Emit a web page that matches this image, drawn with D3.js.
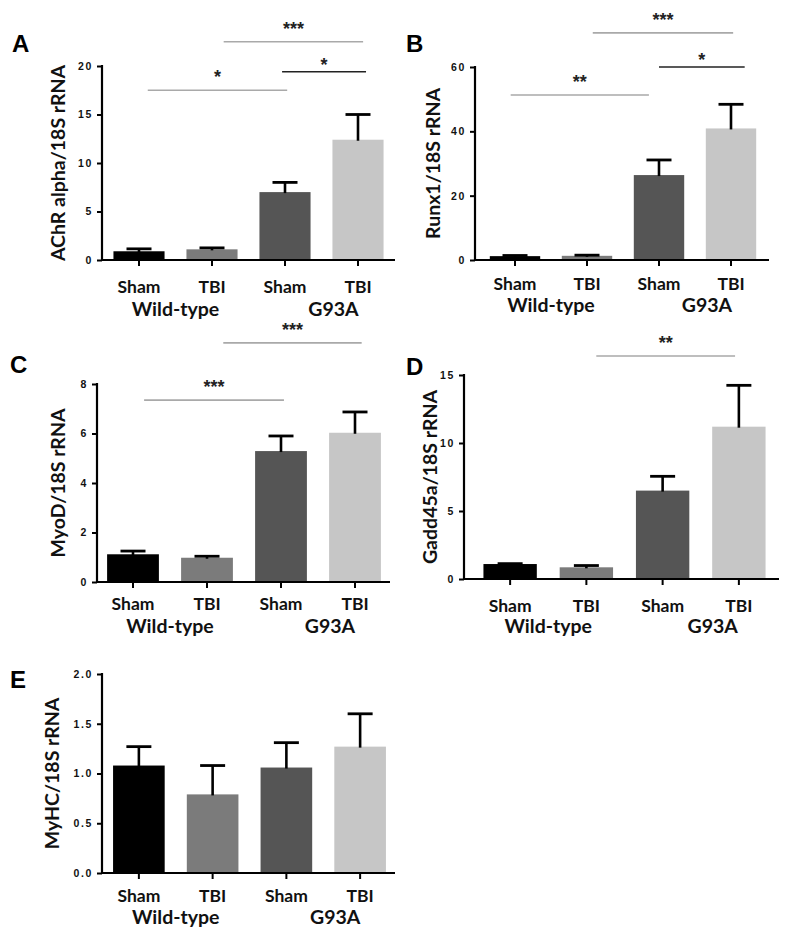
<!DOCTYPE html>
<html>
<head>
<meta charset="utf-8">
<script src="https://cdn.jsdelivr.net/npm/d3@7"></script>
<style>
  html, body { margin: 0; padding: 0; background: #fff; }
  svg { display: block; }
</style>
</head>
<body>
<svg id="chart" width="792" height="948"></svg>
<script>
// ---------------- DATA ----------------
const categories = ["Sham", "TBI", "Sham", "TBI"];
const genotypes = ["Wild-type", "G93A"];
const panelLetters = ["A", "B", "C", "D", "E"];
const yLabels = ["AChR alpha/18S rRNA", "Runx1/18S rRNA", "MyoD/18S rRNA", "Gadd45a/18S rRNA", "MyHC/18S rRNA"];

const achrMean = [0.9, 1.1, 7.0, 12.4];
const achrErr  = [0.25, 0.15, 1.0, 2.6];
const runxMean = [1.2, 1.3, 26.4, 40.9];
const runxErr  = [0.2, 0.2, 4.7, 7.5];
const myodMean = [1.12, 0.98, 5.29, 6.03];
const myodErr  = [0.13, 0.06, 0.61, 0.84];
const gaddMean = [1.1, 0.86, 6.5, 11.2];
const gaddErr  = [0.03, 0.13, 1.05, 3.04];
const myhcMean = [1.08, 0.79, 1.06, 1.27];
const myhcErr  = [0.19, 0.29, 0.25, 0.33];

const achrTicks = [0, 5, 10, 15, 20];
const runxTicks = [0, 20, 40, 60];
const myodTicks = [0, 2, 4, 6, 8];
const gaddTicks = [0, 5, 10, 15];
const myhcTicks = [0, 0.5, 1.0, 1.5, 2.0];

// significance brackets: [from category index, to category index, y value, label, dark line]
const achrSig = [[0.12, 2.03, 17.5, "*", false], [1.16, 3.07, 22.5, "***", false], [1.96, 3.11, 19.4, "*", true]];
const runxSig = [[-0.06, 1.86, 51.3, "**", false], [1.08, 3.03, 70.6, "***", false], [2.0, 3.19, 60, "*", true]];
const myodSig = [[0.15, 2.04, 7.35, "***", false], [1.22, 3.09, 9.66, "***", false]];
const gaddSig = [[1.13, 2.95, 16.4, "**", false]];
const myhcSig = [];

// ---------------- LAYOUT / STYLE ----------------
const barColors = ["#000000", "#7b7b7b", "#555555", "#c6c6c6"];
const panels = [
  { mean: achrMean, err: achrErr, ticks: achrTicks, sig: achrSig, fmt: d3.format("d"),
    axisX: 102, y0: 260, yTop: 66, xr: [102.5, 394.5], xEnd: 395, letter: [12, 52], labelX: 58, row1: 293, row2: 316 },
  { mean: runxMean, err: runxErr, ticks: runxTicks, sig: runxSig, fmt: d3.format("d"),
    axisX: 475, y0: 260, yTop: 67, xr: [479, 767], xEnd: 769, letter: [406, 52], labelX: 433, row1: 290, row2: 312 },
  { mean: myodMean, err: myodErr, ticks: myodTicks, sig: myodSig, fmt: d3.format("d"),
    axisX: 97, y0: 582, yTop: 384, xr: [96, 392], xEnd: 390, letter: [10, 373], labelX: 58, row1: 610, row2: 633 },
  { mean: gaddMean, err: gaddErr, ticks: gaddTicks, sig: gaddSig, fmt: d3.format("d"),
    axisX: 464, y0: 579, yTop: 375, xr: [472, 777], xEnd: 779, letter: [406, 375], labelX: 430, row1: 612, row2: 633 },
  { mean: myhcMean, err: myhcErr, ticks: myhcTicks, sig: myhcSig, fmt: d3.format(".1f"),
    axisX: 102, y0: 873, yTop: 674, xr: [102, 397], xEnd: 395, letter: [10, 688], labelX: 52, row1: 902, row2: 924 }
];

const labelFont = "Lato, 'Open Sans', sans-serif";
const svg = d3.select("#chart");
svg.append("rect").attr("width", 792).attr("height", 948).attr("fill", "#fff");

panels.forEach((p, pi) => {
  const g = svg.append("g");
  const idx = d3.range(categories.length);
  const x = d3.scaleBand().domain(idx).range(p.xr).paddingInner(0.3).paddingOuter(0.15);
  const cx = i => x(i) + x.bandwidth() / 2;
  const xf = d3.scaleLinear().domain([0, 3]).range([cx(0), cx(3)]);
  const yMax = p.ticks[p.ticks.length - 1];
  const y = d3.scaleLinear().domain([0, yMax]).range([p.y0, p.yTop]);

  // bars
  g.selectAll("rect.bar").data(p.mean).join("rect")
    .attr("class", "bar")
    .attr("x", (d, i) => x(i))
    .attr("width", x.bandwidth())
    .attr("y", d => y(d))
    .attr("height", d => p.y0 - y(d))
    .attr("fill", (d, i) => barColors[i]);

  // error bars (upper only)
  const eb = g.selectAll("g.err").data(p.mean).join("g").attr("class", "err");
  eb.append("line")
    .attr("x1", (d, i) => cx(i)).attr("x2", (d, i) => cx(i))
    .attr("y1", (d, i) => y(d) + 1).attr("y2", (d, i) => y(d + p.err[i]))
    .attr("stroke", "#000").attr("stroke-width", 2.6);
  eb.append("line")
    .attr("x1", (d, i) => cx(i) - 12.5).attr("x2", (d, i) => cx(i) + 12.5)
    .attr("y1", (d, i) => y(d + p.err[i])).attr("y2", (d, i) => y(d + p.err[i]))
    .attr("stroke", "#000").attr("stroke-width", 2.8);

  // y axis
  const yAxis = d3.axisLeft(y).tickValues(p.ticks).tickFormat(p.fmt).tickSize(5).tickPadding(4);
  const ya = g.append("g").attr("transform", `translate(${p.axisX},0)`).call(yAxis);
  ya.select(".domain").remove();
  ya.selectAll(".tick line").attr("stroke", "#000").attr("stroke-width", 2);
  ya.selectAll(".tick text")
    .attr("font-family", "Arial, 'Liberation Sans', sans-serif")
    .attr("font-weight", "bold").attr("font-size", 10.5).attr("fill", "#111")
    .style("letter-spacing", "1.6px");
  g.append("line").attr("x1", p.axisX).attr("x2", p.axisX)
    .attr("y1", p.y0 + 1).attr("y2", p.yTop - 1)
    .attr("stroke", "#000").attr("stroke-width", 2.2);

  // x axis
  g.append("line").attr("x1", p.axisX - 1).attr("x2", p.xEnd)
    .attr("y1", p.y0).attr("y2", p.y0)
    .attr("stroke", "#000").attr("stroke-width", 2.2);
  g.selectAll("line.xt").data(idx).join("line").attr("class", "xt")
    .attr("x1", i => cx(i)).attr("x2", i => cx(i))
    .attr("y1", p.y0).attr("y2", p.y0 + 6)
    .attr("stroke", "#000").attr("stroke-width", 2);

  // category labels
  g.selectAll("text.cat").data(categories).join("text").attr("class", "cat")
    .attr("x", (d, i) => cx(i)).attr("y", p.row1)
    .attr("text-anchor", "middle")
    .attr("font-family", labelFont).attr("font-weight", 700)
    .attr("font-size", 17.5).attr("fill", "#111")
    .text(d => d);
  // genotype labels
  const gx = [(cx(0) + cx(1)) / 2, (cx(2) + cx(3)) / 2 + 12];
  g.selectAll("text.geno").data(genotypes).join("text").attr("class", "geno")
    .attr("x", (d, i) => gx[i]).attr("y", p.row2)
    .attr("text-anchor", "middle")
    .attr("font-family", labelFont).attr("font-weight", 700)
    .attr("font-size", 19.5).attr("fill", "#111")
    .text(d => d);

  // y label
  const ly = (p.y0 + p.yTop) / 2;
  g.append("text")
    .attr("transform", `translate(${p.labelX + 7},${ly}) rotate(-90)`)
    .attr("text-anchor", "middle")
    .attr("font-family", labelFont).attr("font-weight", 700)
    .attr("font-size", 19.5).attr("fill", "#111")
    .text(yLabels[pi]);

  // panel letter
  g.append("text").attr("x", p.letter[0]).attr("y", p.letter[1])
    .attr("font-family", "Arial, 'Liberation Sans', sans-serif").attr("font-weight", "bold")
    .attr("font-size", 24).attr("fill", "#000")
    .text(panelLetters[pi]);

  // significance brackets
  p.sig.forEach(s => {
    const [a, b, v, lab, dark] = s;
    const ys = y(v);
    g.append("line").attr("x1", xf(a)).attr("x2", xf(b)).attr("y1", ys).attr("y2", ys)
      .attr("stroke", dark ? "#222" : "#a9a9a9").attr("stroke-width", 1.6);
    const off = dark ? 11 : 17;
    g.append("text").attr("x", (xf(a) + xf(b)) / 2).attr("y", ys - off + 10)
      .attr("text-anchor", "middle")
      .attr("font-family", "Arial, 'Liberation Sans', sans-serif").attr("font-weight", "bold")
      .attr("font-size", 18).attr("fill", "#222")
      .text(lab);
  });
});
</script>
</body>
</html>
